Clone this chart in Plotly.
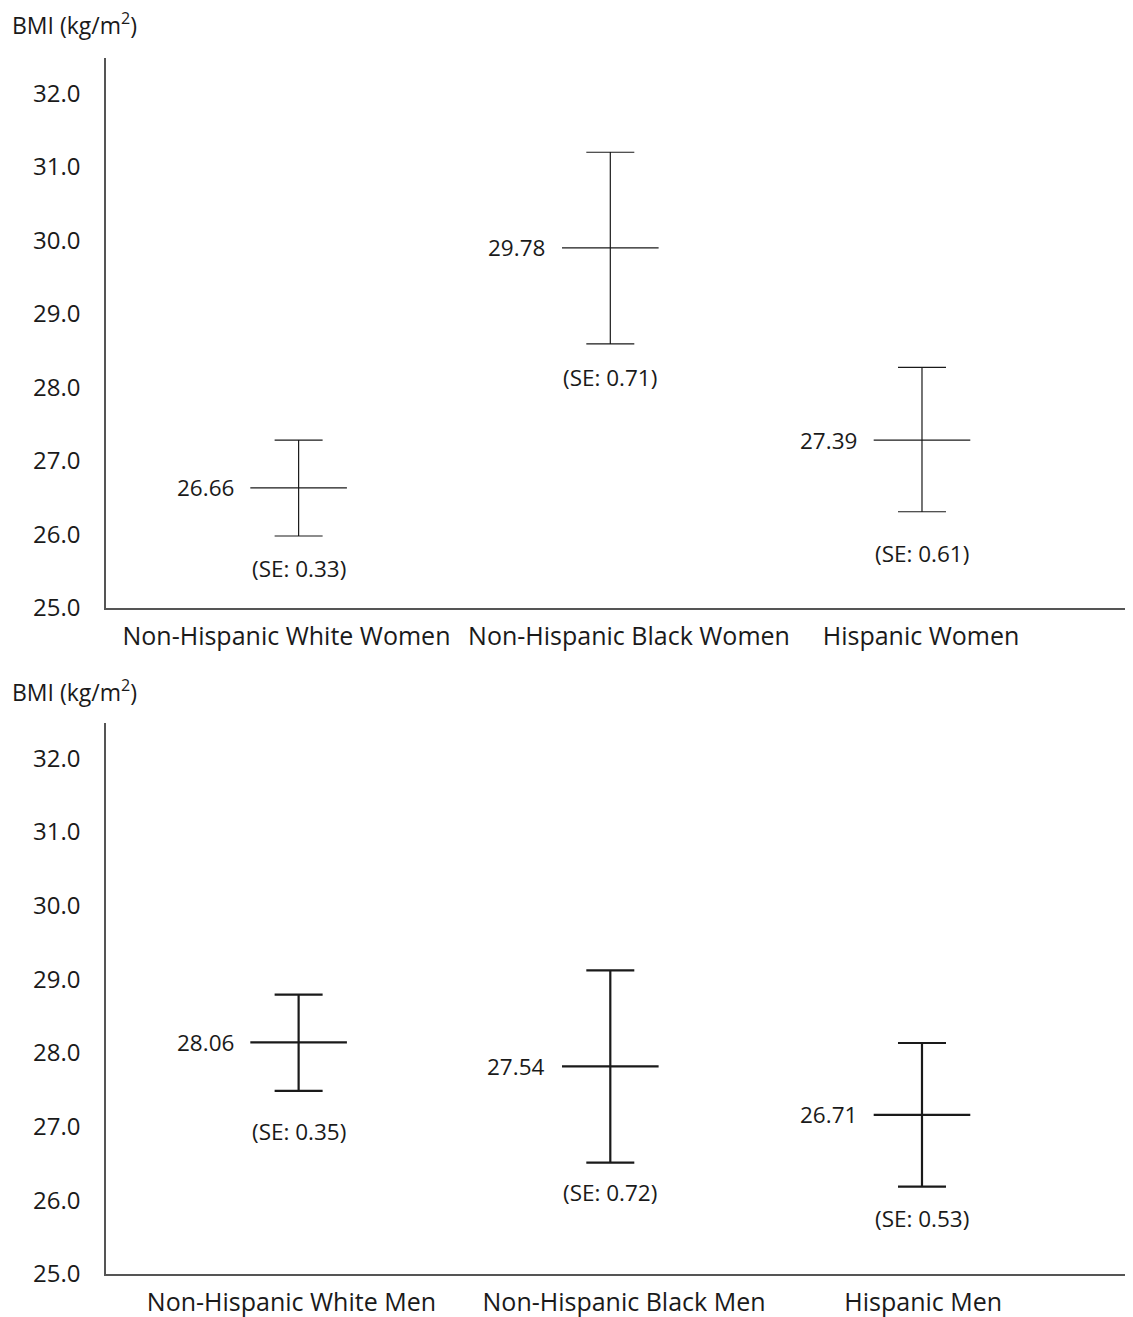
import plotly.graph_objects as go

# ---------------- data ----------------
women_groups = ["Non-Hispanic White Women", "Non-Hispanic Black Women", "Hispanic Women"]
women_mean_label = ["26.66", "29.78", "27.39"]
women_se_label = ["0.33", "0.71", "0.61"]
women_center = [26.635, 29.897, 27.284]
women_upper = [27.284, 31.198, 28.272]
women_lower = [25.979, 28.593, 26.309]

men_groups = ["Non-Hispanic White Men", "Non-Hispanic Black Men", "Hispanic Men"]
men_mean_label = ["28.06", "27.54", "26.71"]
men_se_label = ["0.35", "0.72", "0.53"]
men_center = [28.144, 27.818, 27.161]
men_upper = [28.792, 29.122, 28.136]
men_lower = [27.487, 26.512, 26.187]

y_ticks = [25.0, 26.0, 27.0, 28.0, 29.0, 30.0, 31.0, 32.0]
y_title = "BMI (kg/m<sup>2</sup>)"

# ---------------- layout constants ----------------
FONT = "Open Sans"
FS = 22
TXT = "#1a1a1a"
AX = "#555555"
x_pos = [0, 1, 2]
women_label_pos = [-0.039, 1.06, 1.997]
men_label_pos = [-0.023, 1.044, 2.004]
women_se_shift = [-32, -34, -42]
men_se_shift = [-41, -30, -32]

W, H = 1125, 1309          # page body has an 8px margin
ML, MT, MB = 98, 50, 43
PW, PH = W - ML, H - MT - MB

fig = go.Figure()


def add_panel(center, upper, lower, mean_lbl, se_lbl, se_shift, xa, ya, lw):
    fig.add_trace(go.Scatter(
        x=x_pos, y=center, xaxis=xa, yaxis=ya, mode="markers",
        marker=dict(symbol="line-ew-open", size=69, color="#1a1a1a",
                    line=dict(width=lw, color="#1a1a1a")),
        error_y=dict(type="data", symmetric=False,
                     array=[u - c for u, c in zip(upper, center)],
                     arrayminus=[c - l for c, l in zip(center, lower)],
                     width=24, thickness=lw, color="#1a1a1a"),
        showlegend=False, hoverinfo="skip"))
    for i in range(3):
        fig.add_annotation(x=x_pos[i], y=center[i], xref=xa, yref=ya,
                           text=mean_lbl[i], showarrow=False, xanchor="right",
                           yanchor="middle", xshift=-63,
                           font=dict(family=FONT, size=FS + 0.5, color=TXT))
        fig.add_annotation(x=x_pos[i], y=lower[i], xref=xa, yref=ya,
                           text="(SE: " + se_lbl[i] + ")", showarrow=False,
                           xanchor="center", yanchor="middle", yshift=se_shift[i],
                           font=dict(family=FONT, size=FS + 0.5, color=TXT))


add_panel(women_center, women_upper, women_lower, women_mean_label, women_se_label,
          women_se_shift, "x", "y", 1.2)
add_panel(men_center, men_upper, men_lower, men_mean_label, men_se_label,
          men_se_shift, "x2", "y2", 2.2)

xcommon = dict(range=[-0.618, 2.677], showgrid=False, zeroline=False,
               showline=True, linecolor=AX, linewidth=1.5, ticks="",
               automargin=False,
               tickfont=dict(family=FONT, size=FS + 3, color=TXT), ticklabelstandoff=5)
ycommon = dict(range=[25, 32.48], tickvals=y_ticks,
               ticktext=[f"{v:.1f}" for v in y_ticks], showgrid=False,
               zeroline=False, showline=True, linecolor=AX, linewidth=1.5,
               ticks="", automargin=False,
               tickfont=dict(family=FONT, size=FS + 2, color=TXT),
               ticklabelstandoff=19)

fig.update_layout(
    width=W, height=H,
    margin=dict(l=ML, r=0, t=MT, b=MB, pad=0, autoexpand=False),
    paper_bgcolor="white", plot_bgcolor="white",
    xaxis=dict(xcommon, anchor="y", tickvals=women_label_pos, ticktext=women_groups),
    yaxis=dict(ycommon, domain=[0.5477, 1.0], anchor="x"),
    xaxis2=dict(xcommon, anchor="y2", tickvals=men_label_pos, ticktext=men_groups),
    yaxis2=dict(ycommon, domain=[0.0, 0.4531], anchor="x2"),
)

for ty in (16, 683):
    fig.add_annotation(x=(2 - ML) / PW, y=(H - MB - ty) / PH, xref="paper", yref="paper",
                       text=y_title, showarrow=False, xanchor="left", yanchor="middle",
                       font=dict(family=FONT, size=FS + 1, color=TXT))

fig.write_html("out.html")
